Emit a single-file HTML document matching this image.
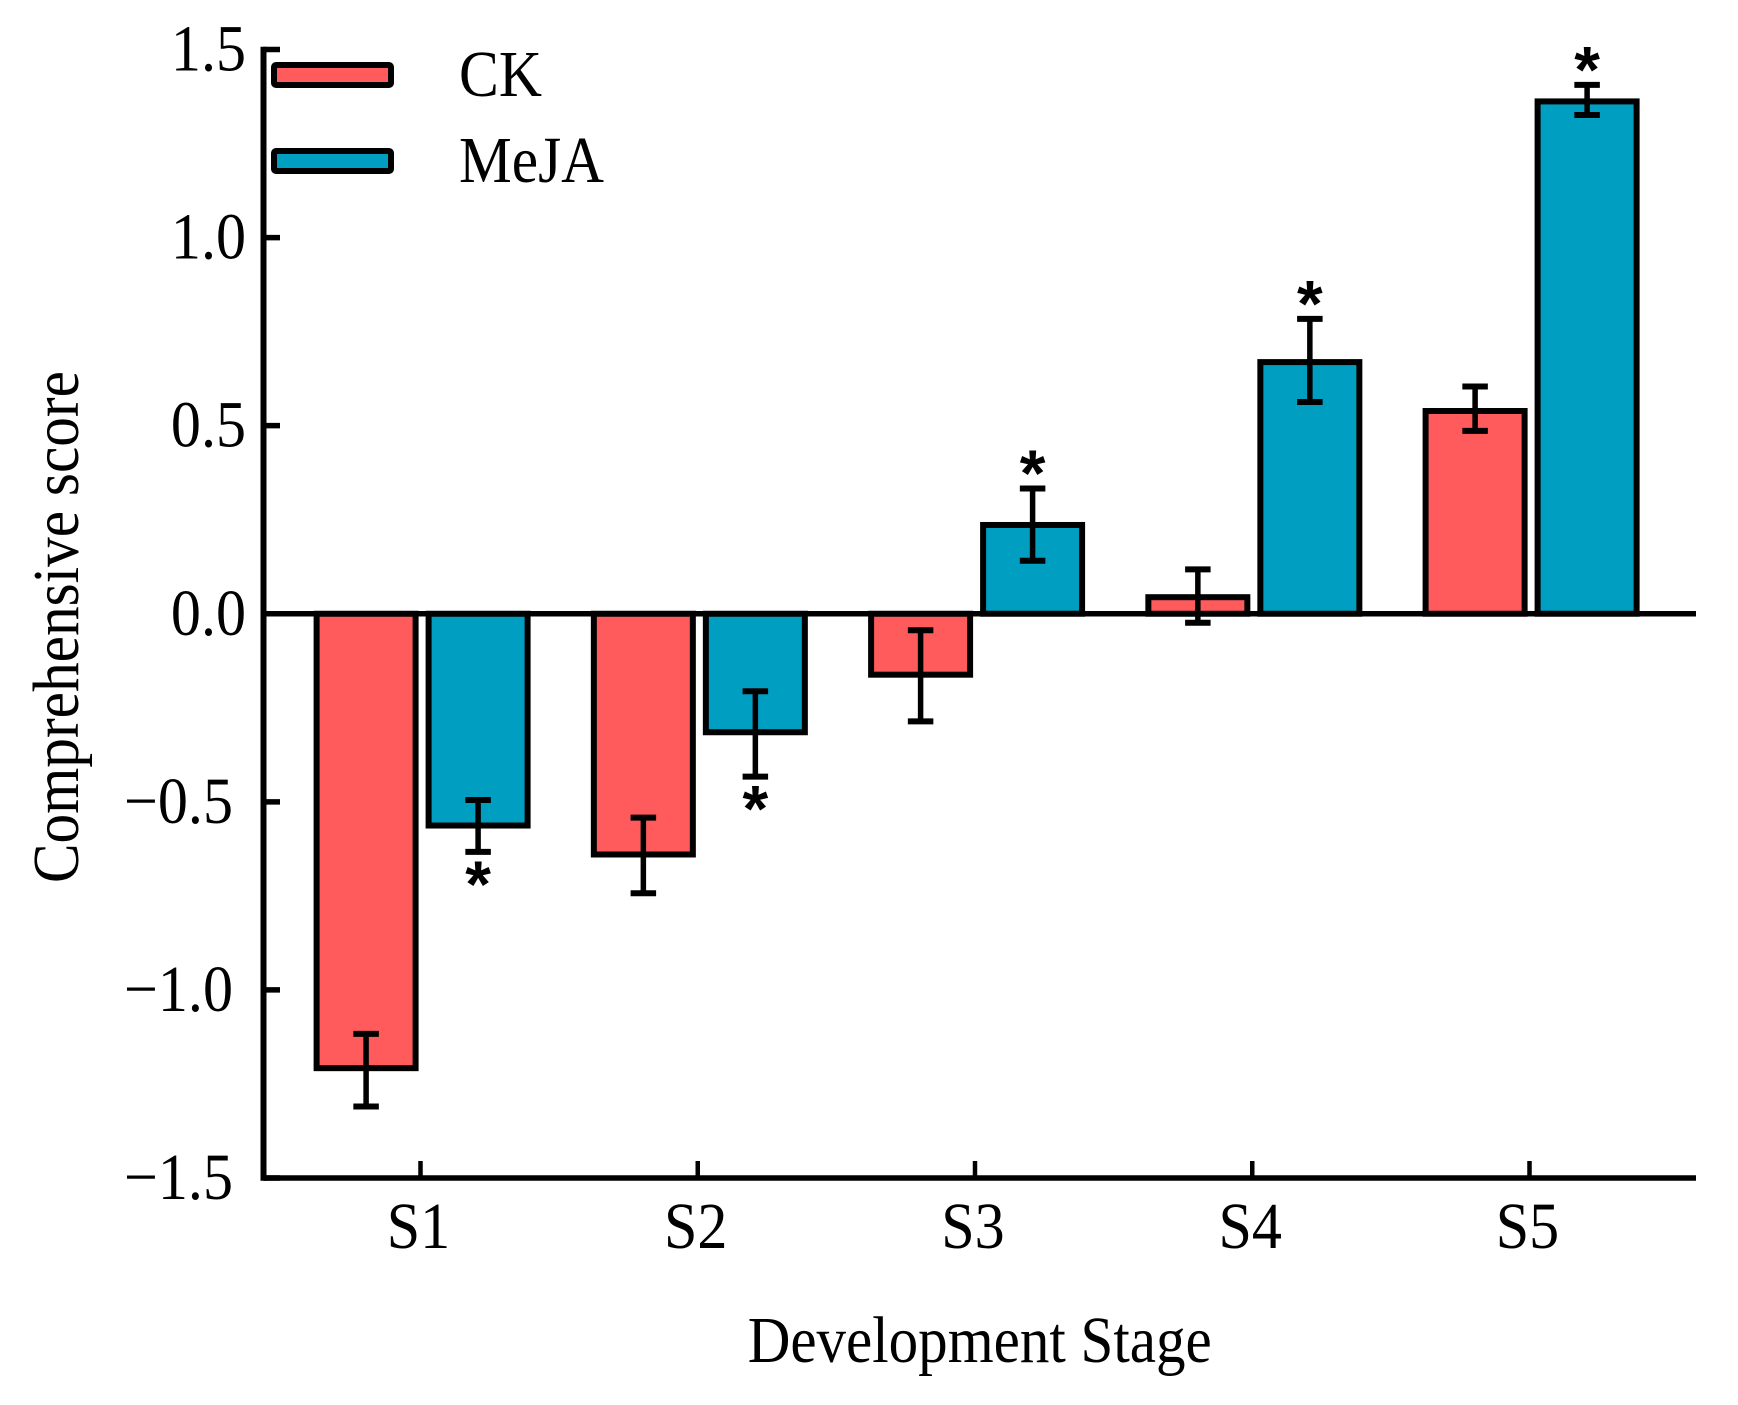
<!DOCTYPE html>
<html>
<head>
<meta charset="utf-8">
<style>
html,body{margin:0;padding:0;background:#fff;}
svg{display:block;}
text{font-family:"Liberation Serif",serif;fill:#000;}
</style>
</head>
<body>
<svg id="chart" xmlns="http://www.w3.org/2000/svg" width="1738" height="1405" viewBox="0 0 1738 1405">
  <g id="bars"></g>
  <g id="axes"></g>
  <g id="errors"></g>
  <g id="stars"></g>
  <g>
    <rect x="274" y="65" width="117" height="20" rx="2" fill="#FF5A5C" stroke="#000" stroke-width="6"/>
    <rect x="274" y="151" width="117" height="20" rx="2" fill="#009EC1" stroke="#000" stroke-width="6"/>
    <text x="459" y="96" font-size="66" textLength="83" lengthAdjust="spacingAndGlyphs">CK</text>
    <text x="459" y="182" font-size="66" textLength="145" lengthAdjust="spacingAndGlyphs">MeJA</text>
  </g>
  <text transform="translate(78 627) rotate(-90)" text-anchor="middle" font-size="66" textLength="512" lengthAdjust="spacingAndGlyphs">Comprehensive score</text>
  <text x="979.7" y="1362" text-anchor="middle" font-size="66" textLength="464" lengthAdjust="spacingAndGlyphs">Development Stage</text>
</svg>
<script>
const categories = ['S1','S2','S3','S4','S5'];
const ckValues = [-1.208,-0.640,-0.162,0.044,0.539];
const ckUpper = [-1.117,-0.542,-0.044,0.118,0.604];
const ckLower = [-1.310,-0.743,-0.286,-0.024,0.486];
const mejaValues = [-0.563,-0.315,0.236,0.669,1.362];
const mejaUpper = [-0.495,-0.206,0.333,0.784,1.406];
const mejaLower = [-0.633,-0.433,0.141,0.563,1.326];
const mejaSignificant = [true,true,true,true,true];
const yTickValues = [1.5,1.0,0.5,0.0,-0.5,-1.0,-1.5];
const yTickLabels = ['1.5','1.0','0.5','0.0','\u22120.5','\u22121.0','\u22121.5'];

const SVGNS = 'http://www.w3.org/2000/svg';
const plot = {left:263.5, right:1696, top:49.5, bottom:1178};
const yMin = -1.5, yMax = 1.5;
function yScale(v){ return plot.bottom - (v - yMin) / (yMax - yMin) * (plot.bottom - plot.top); }
function xScale(i){ return 420.5 + i * 277.25; }
const groupShift = 1.6, barOffset = 56, barWidth = 99, capWidth = 25.5;

function make(tag, attrs, parent){
  const el = document.createElementNS(SVGNS, tag);
  for (const k in attrs) el.setAttribute(k, attrs[k]);
  parent.appendChild(el);
  return el;
}
function squeeze(el){
  el.setAttribute('textLength', el.getComputedTextLength() * 0.91);
  el.setAttribute('lengthAdjust', 'spacingAndGlyphs');
}
const barsG = document.getElementById('bars');
const axesG = document.getElementById('axes');
const errG = document.getElementById('errors');
const starsG = document.getElementById('stars');

function drawBar(cx, v, fill, name){
  const y0 = yScale(0), y1 = yScale(v);
  const el = make('rect', {x:cx - barWidth/2, y:Math.min(y0,y1), width:barWidth, height:Math.abs(y1-y0), fill:fill, stroke:'#000', 'stroke-width':6}, barsG);
  
  
}
function drawError(cx, hi, lo, name){
  const g = make('g', {stroke:'#000', fill:'none'}, errG);
  
  
  make('line', {x1:cx, x2:cx, y1:yScale(hi), y2:yScale(lo), 'stroke-width':5.5}, g);
  make('line', {x1:cx-capWidth/2, x2:cx+capWidth/2, y1:yScale(hi), y2:yScale(hi), 'stroke-width':6}, g);
  make('line', {x1:cx-capWidth/2, x2:cx+capWidth/2, y1:yScale(lo), y2:yScale(lo), 'stroke-width':6}, g);
}

categories.forEach(function(cat, i){
  const cx = xScale(i);
  const cCk = cx + groupShift - barOffset, cMj = cx + groupShift + barOffset;
  drawBar(cCk, ckValues[i], '#FF5A5C', 'bar-ck-' + cat.toLowerCase());
  drawBar(cMj, mejaValues[i], '#009EC1', 'bar-meja-' + cat.toLowerCase());
  drawError(cCk, ckUpper[i], ckLower[i], 'error-bar-ck-' + cat.toLowerCase());
  drawError(cMj, mejaUpper[i], mejaLower[i], 'error-bar-meja-' + cat.toLowerCase());
  if (mejaSignificant[i]) {
    const neg = mejaValues[i] < 0;
    const sy = neg ? yScale(mejaLower[i]) + 55 : yScale(mejaUpper[i]) + 7.5;
    const star = make('text', {x:cMj, y:sy, 'text-anchor':'middle', 'font-size':66, 'font-weight':'bold'}, starsG);
    star.setAttribute('style', 'font-family:"Liberation Sans",sans-serif');
    
    
    star.textContent = '*';
  }
  const tick = make('line', {x1:cx, x2:cx, y1:plot.bottom, y2:1161, stroke:'#000', 'stroke-width':4.5}, axesG);
  
  
  const lab = make('text', {x:cx - 2, y:1248, 'text-anchor':'middle', 'font-size':66}, axesG);
  
  
  lab.textContent = cat;
  squeeze(lab);
});

yTickValues.forEach(function(v, i){
  const y = yScale(v);
  const tick = make('line', {x1:plot.left, x2:280, y1:y, y2:y, stroke:'#000', 'stroke-width':5.5}, axesG);
  
  
  const lab = make('text', {x: v < 0 ? 233 : 246, y:y + 21, 'text-anchor':'end', 'font-size':66}, axesG);
  
  
  lab.textContent = yTickLabels[i];
  squeeze(lab);
});

const yAxis = make('line', {x1:plot.left, x2:plot.left, y1:plot.top-2.75, y2:plot.bottom+2.75, stroke:'#000', 'stroke-width':6}, axesG);


const xAxis = make('line', {x1:plot.left, x2:plot.right, y1:plot.bottom, y2:plot.bottom, stroke:'#000', 'stroke-width':5.5}, axesG);


const zeroLine = make('line', {x1:plot.left, x2:plot.right, y1:yScale(0), y2:yScale(0), stroke:'#000', 'stroke-width':5.5}, axesG);


</script>
</body>
</html>
